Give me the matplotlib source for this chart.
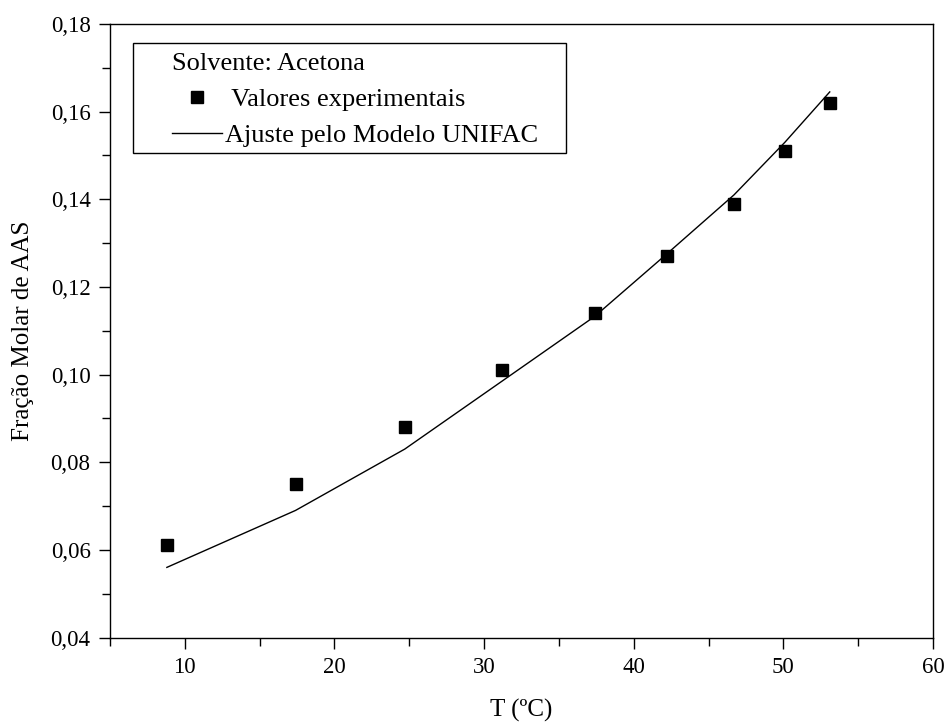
import numpy as np
import matplotlib
matplotlib.use("Agg")
import matplotlib.pyplot as plt
from matplotlib.patches import Rectangle
from matplotlib.ticker import MultipleLocator, FuncFormatter

# experimental solubility of AAS in acetone
temp_exp = [8.8, 17.4, 24.7, 31.2, 37.4, 42.2, 46.7, 50.1, 53.1]
x_exp = [0.061, 0.075, 0.088, 0.101, 0.114, 0.127, 0.139, 0.151, 0.162]

# UNIFAC fit evaluated at the same temperatures
x_unifac = [0.056, 0.069, 0.083, 0.0985, 0.1133, 0.1275, 0.141, 0.153, 0.1645]

plt.rcParams['font.family'] = ['Liberation Serif', 'DejaVu Serif']
plt.rcParams['font.size'] = 16.5

fig = plt.figure(figsize=(9.44, 7.23), dpi=100)
ax = fig.add_axes([110 / 944, 1 - 637.5 / 723, 823 / 944, 613.5 / 723])

ax.plot(temp_exp, x_exp, 's', color='black', markersize=8.6, linestyle='none',
        label=' Valores experimentais')
ax.plot(temp_exp, x_unifac, '-', color='black', linewidth=1.0,
        label='Ajuste pelo Modelo UNIFAC')

ax.set_xlim(5, 60)
ax.set_ylim(0.04, 0.18)
ax.xaxis.set_major_locator(MultipleLocator(10))
ax.xaxis.set_minor_locator(MultipleLocator(5))
ax.yaxis.set_major_locator(MultipleLocator(0.02))
ax.yaxis.set_minor_locator(MultipleLocator(0.01))
ax.yaxis.set_major_formatter(FuncFormatter(lambda v, p: ('%.2f' % v).replace('.', ',')))

ax.tick_params(which='both', direction='out', top=False, right=False, width=1.0)
ax.tick_params(which='major', length=8, pad=6)
ax.tick_params(which='minor', length=6)
for s in ax.spines.values():
    s.set_linewidth(1.0)

ax.set_xlabel('T (ºC)', fontsize=18, labelpad=15)
ax.set_ylabel('Fração Molar de AAS', fontsize=18, labelpad=12)

# legend text without frame, frame drawn separately (wider side padding)
leg = ax.legend(loc='upper left', bbox_to_anchor=(62 / 823, (637.5 - 53) / 613.5),
                title='Solvente: Acetona', alignment='left',
                frameon=False, handlelength=1.9, handletextpad=0.12,
                labelspacing=0.47, borderpad=0.0, borderaxespad=0.0,
                fontsize=19, title_fontsize=19)
ax.add_patch(Rectangle((23 / 823, (637.5 - 153) / 613.5), 433 / 823, 110 / 613.5,
                       transform=ax.transAxes, fill=False, edgecolor='black',
                       linewidth=1.0, zorder=5))

fig.savefig('out.png', dpi=100)
